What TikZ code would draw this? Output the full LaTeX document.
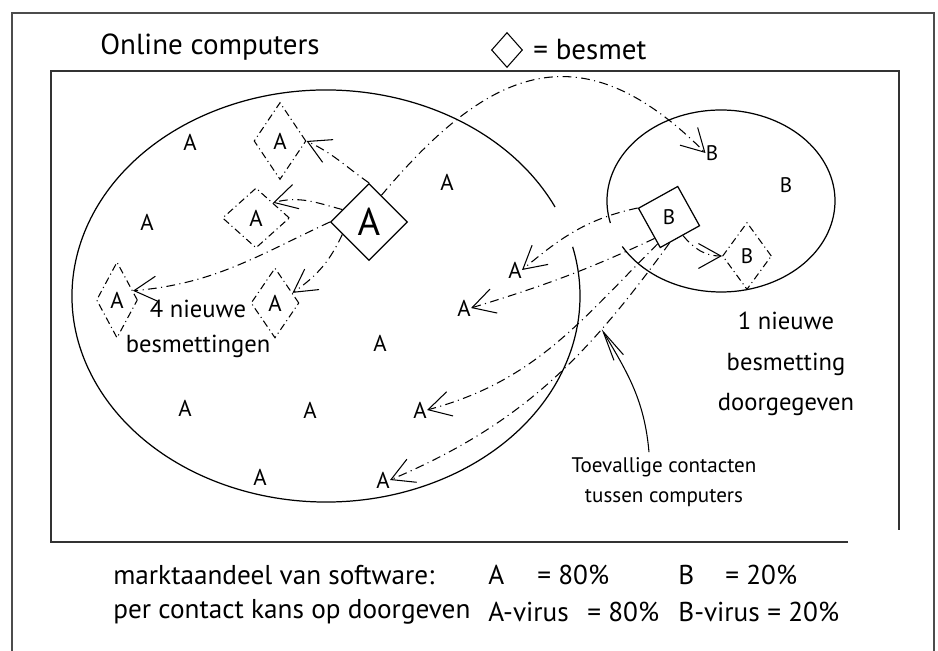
\documentclass[tikz,border=0pt]{standalone}
\usepackage{fontspec}
\setmainfont{PT Sans}
\usetikzlibrary{shapes.geometric,arrows.meta,positioning}

\begin{document}
\begin{tikzpicture}[x=0.02cm,y=0.02cm,
    every node/.style={inner sep=0pt},
    pc/.style={font=\fontsize{13}{15}\selectfont},
    pcB/.style={font=\fontsize{12}{14}\selectfont},
    besmet/.style={draw,shape=diamond,line width=0.6pt,dash pattern=on 4pt off 2pt on 0.6pt off 2pt},
    schoon/.style={draw,shape=diamond,line width=0.7pt},
    contact/.style={line width=0.6pt,dash pattern=on 5pt off 2.5pt on 0.6pt off 2.5pt,-{Straight Barb[length=4.5mm,width=5mm]}},
    uitleg/.style={font=\fontsize{14}{23}\selectfont,align=center},
    regel/.style={font=\fontsize{15.5}{18}\selectfont,anchor=west}]
    	\useasboundingbox (0,0) rectangle (938,-651);
    	% kaders
    	\draw [black!70,line width=0.8pt] (12,-651) -- (12,-13) -- (934,-13) -- (934,-651);
    	\draw [black!80,line width=0.8pt] (848,-542) -- (51,-542) -- (51,-71) -- (899,-71) -- (899,-530);
    	% kop en legenda
    	\node [font=\fontsize{16.5}{18}\selectfont] (title) at (210,-47) {Online computers};
    	\node [schoon,line width=0.6pt,minimum width=6.2mm,minimum height=7mm] (legend) at (507,-50) {};
    	\node [font=\fontsize{16.5}{18}\selectfont,right=2mm of legend] (legtxt) {= besmet};
    	% populaties
    	\draw [line width=0.7pt] (326,-296) ++(25.6:254 and 206) arc (25.6:373.8:254 and 206);
    	\draw [line width=0.7pt] (721,-201) ++(210:114 and 91) arc (210:554:114 and 91);
    	% computers A
    	\node [pc] (a1) at (190,-142) {A};
    	\node [pc] (a2) at (447,-182) {A};
    	\node [pc] (a3) at (147,-222) {A};
    	\node [pc] (a4) at (380,-343) {A};
    	\node [pc] (a5) at (185,-408) {A};
    	\node [pc] (a6) at (310,-410) {A};
    	\node [pc] (a7) at (420,-410) {A};
    	\node [pc] (a8) at (260,-477) {A};
    	\node [pc] (a9) at (383,-480) {A};
    	\node [pc] (a10) at (515,-270) {A};
    	\node [pc] (a11) at (464,-308) {A};
    	\node [besmet,pc,minimum width=10.4mm,minimum height=15.4mm] (d1) at (280,-141) {A};
    	\node [besmet,pc,minimum width=13.4mm,minimum height=12mm] (d2) at (256,-218) {A};
    	\node [besmet,pc,minimum width=8.2mm,minimum height=15.2mm] (d3) at (117,-300) {A};
    	\node [besmet,pc,minimum width=9.6mm,minimum height=14mm] (d4) at (275,-303) {A};
    	\node [schoon,minimum size=15.4mm,font=\fontsize{22}{24}\selectfont] (mainA) at (369,-222) {A};
    	% computers B
    	\node [pcB] (b1) at (712,-153) {B};
    	\node [pcB] (b2) at (786,-185) {B};
    	\node [besmet,pcB,minimum width=9.8mm,minimum height=13.4mm] (db) at (747,-256) {B};
    	\node [schoon,pcB,minimum size=12.8mm,rotate=-16] (mainB) at (669,-217) {\rotatebox{16}{B}};
    	% besmettingen
    	\draw [contact] (mainA.north) to[out=145,in=-25] (d1.east);
    	\draw [contact] (mainA.155) to[out=165,in=15] (d2.north east);
    	\draw [contact] (mainA.west) to[out=205,in=5] (d3.30);
    	\draw [contact] (mainA.205) to[out=245,in=35] (d4.30);
    	\draw [contact] (mainA.65) to[out=50,in=135,looseness=1.35] (b1.west);
    	\draw [contact] (mainB.west) to[out=192,in=40] (a10.east);
    	\draw [contact] (mainB.252) to[out=205,in=17] (a11.east);
    	\draw [contact] (mainB.263) to[out=225,in=15] (a7.east);
    	\draw [contact] (mainB.287) to[out=234,in=23] coordinate[pos=0.28] (hit) (a9.east);
    	\draw [contact] (mainB.-37) to[out=-50,in=180] (db.west);
    	% toelichting
    	\node [uitleg,font=\fontsize{14}{20}\selectfont] (nieuwA) at (198,-329) {4 nieuwe\\besmettingen};
    	\node [uitleg] (nieuwB) at (786,-364) {1 nieuwe\\besmetting\\doorgegeven};
    	\node [font=\fontsize{12}{17}\selectfont,align=center] (toev) at (664,-482) {Toevallige contacten\\tussen computers};
    	\draw [line width=0.6pt,-{Straight Barb[length=6mm,width=2.2mm]}] ([xshift=-3mm,yshift=1mm]toev.north) to[out=95,in=-59] (hit);
    	% onderschrift
    	\node [regel] (markt) at (113,-575) {marktaandeel van software:};
    	\node [regel] (softA) at (488,-575) {A};
    	\node [regel] (pctA) at (537,-575) {= 80\%};
    	\node [regel] (softB) at (678,-575) {B};
    	\node [regel] (pctB) at (725,-575) {= 20\%};
    	\node [regel] (kans) at (113,-612) {per contact kans op doorgeven};
    	\node [regel] (virA) at (488,-612) {A-virus};
    	\node [regel] (kansA) at (587,-612) {= 80\%};
    	\node [regel] (virB) at (678,-612) {B-virus};
    	\node [regel] (kansB) at (767,-612) {= 20\%};
\end{tikzpicture}
\end{document}
